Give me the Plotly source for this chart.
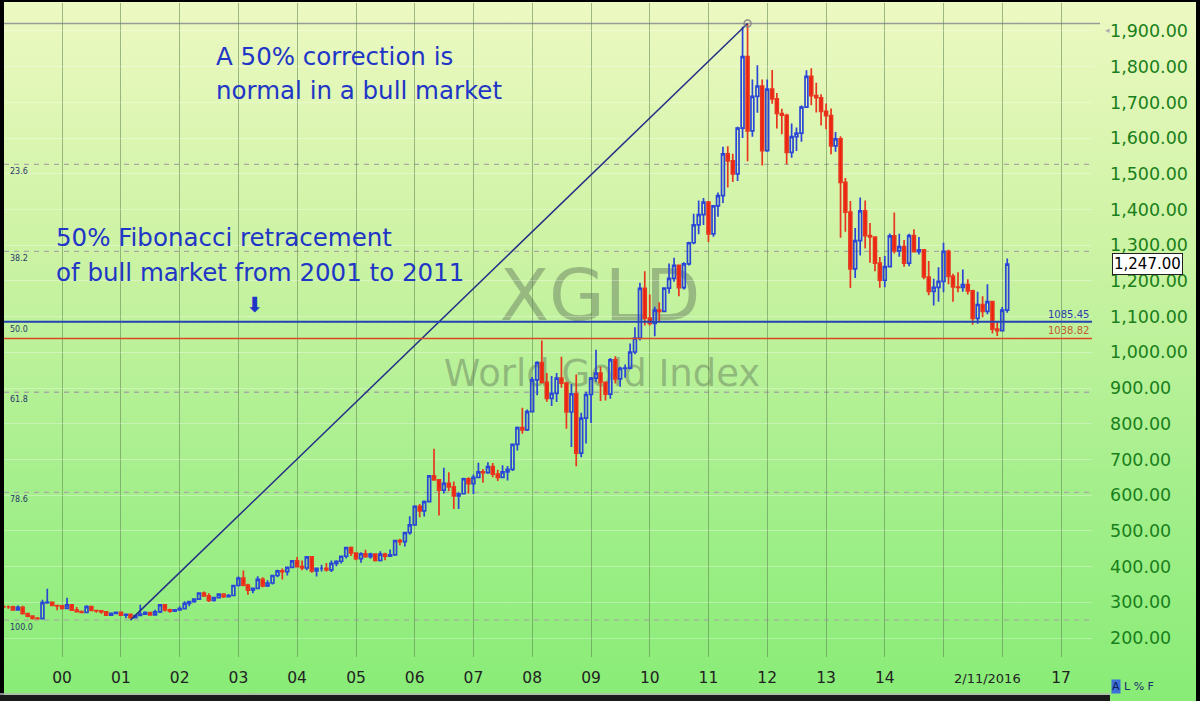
import base64
import pandas as pd
import plotly.graph_objects as go

# ---------------- data: monthly OHLC of the World Gold Index (XGLD) ----------------
months = pd.date_range("1999-01-01", "2016-02-01", freq="MS")

open_ = [
    288, 287, 287, 279, 286, 268, 261, 255, 254, 299, 300, 291,          # 1999
    290, 283, 293, 278, 274, 272, 288, 277, 276, 273, 264, 269,          # 2000
    272, 264, 266, 257, 263, 267, 271, 265, 273, 293, 279, 275,          # 2001
    279, 282, 297, 302, 309, 326, 318, 305, 313, 323, 316, 319,          # 2002
    347, 368, 348, 334, 339, 364, 346, 354, 375, 388, 386, 398,          # 2003
    416, 400, 396, 427, 388, 395, 395, 391, 409, 415, 429, 453,          # 2004
    438, 422, 436, 428, 435, 417, 435, 429, 433, 473, 470, 495,          # 2005
    517, 569, 556, 582, 654, 643, 614, 633, 623, 598, 604, 646,          # 2006
    632, 650, 665, 663, 680, 659, 650, 665, 672, 742, 789, 783,          # 2007
    834, 923, 971, 916, 871, 885, 928, 914, 833, 884, 718, 816,          # 2008
    882, 928, 942, 916, 883, 979, 926, 955, 956, 1001, 1040, 1179,       # 2009
    1096, 1081, 1118, 1115, 1180, 1207, 1244, 1181, 1248, 1307, 1357, 1386,  # 2010
    1421, 1332, 1410, 1439, 1556, 1536, 1500, 1628, 1828, 1620, 1717, 1746,  # 2011
    1565, 1737, 1710, 1669, 1664, 1560, 1604, 1614, 1687, 1773, 1719, 1713,  # 2012
    1675, 1663, 1578, 1598, 1476, 1393, 1234, 1313, 1396, 1327, 1323, 1250,  # 2013
    1202, 1240, 1326, 1284, 1296, 1250, 1327, 1282, 1287, 1211, 1171, 1182,  # 2014
    1199, 1283, 1213, 1183, 1182, 1190, 1172, 1095, 1134, 1115, 1142, 1065,  # 2015
    1061, 1118,                                                          # 2016
]
high = [
    293, 291, 290, 291, 290, 269, 264, 259, 307, 338, 302, 293,
    292, 313, 294, 287, 277, 292, 290, 279, 277, 274, 270, 274,
    273, 268, 267, 265, 293, 275, 272, 279, 294, 293, 282, 281,
    289, 303, 304, 310, 327, 330, 325, 315, 325, 325, 323, 349,
    372, 389, 352, 341, 373, 370, 362, 376, 391, 395, 400, 417,
    427, 417, 428, 428, 396, 405, 410, 417, 418, 430, 455, 456,
    440, 440, 447, 439, 437, 443, 439, 448, 475, 478, 497, 541,
    572, 575, 585, 655, 730, 645, 677, 664, 638, 608, 649, 650,
    658, 691, 673, 692, 690, 671, 684, 682, 745, 792, 845, 840,
    931, 975, 1033, 942, 934, 942, 988, 918, 911, 938, 831, 890,
    931, 1007, 960, 918, 984, 989, 960, 966, 1025, 1070, 1195, 1227,
    1162, 1128, 1140, 1181, 1249, 1265, 1245, 1252, 1310, 1388, 1425, 1432,
    1424, 1411, 1448, 1576, 1577, 1556, 1632, 1912, 1920, 1764, 1804, 1764,
    1764, 1791, 1726, 1682, 1668, 1641, 1630, 1691, 1790, 1796, 1755, 1723,
    1697, 1683, 1617, 1605, 1488, 1424, 1348, 1434, 1425, 1362, 1324, 1267,
    1270, 1333, 1392, 1332, 1315, 1332, 1345, 1323, 1289, 1256, 1206, 1238,
    1307, 1287, 1220, 1224, 1232, 1205, 1175, 1170, 1157, 1191, 1142, 1088,
    1127, 1263,
]
low = [
    283, 282, 278, 278, 267, 258, 252, 252, 253, 296, 289, 278,
    280, 282, 277, 273, 270, 271, 276, 271, 268, 263, 263, 267,
    263, 255, 256, 255, 262, 265, 264, 265, 270, 274, 271, 273,
    277, 281, 289, 299, 307, 315, 301, 302, 311, 312, 315, 318,
    344, 345, 321, 325, 337, 342, 343, 350, 370, 364, 375, 397,
    398, 390, 390, 383, 372, 386, 386, 385, 401, 409, 423, 430,
    418, 411, 425, 422, 414, 414, 418, 428, 432, 460, 456, 489,
    515, 538, 540, 580, 641, 543, 605, 612, 561, 561, 603, 605,
    603, 648, 635, 660, 650, 640, 648, 641, 668, 725, 772, 780,
    832, 880, 913, 862, 850, 861, 901, 786, 735, 681, 706, 745,
    802, 918, 864, 865, 870, 913, 904, 929, 953, 995, 1033, 1075,
    1075, 1045, 1088, 1113, 1165, 1198, 1157, 1176, 1243, 1303, 1331, 1357,
    1309, 1324, 1380, 1418, 1462, 1477, 1480, 1600, 1535, 1604, 1671, 1523,
    1562, 1696, 1627, 1611, 1527, 1545, 1564, 1590, 1684, 1692, 1672, 1635,
    1625, 1555, 1562, 1321, 1338, 1180, 1208, 1271, 1291, 1251, 1227, 1181,
    1182, 1238, 1277, 1268, 1240, 1241, 1281, 1274, 1205, 1160, 1131, 1142,
    1168, 1191, 1142, 1168, 1170, 1162, 1077, 1080, 1098, 1107, 1053, 1046,
    1060, 1111,
]
close = [
    287, 287, 279, 286, 268, 261, 255, 254, 299, 300, 291, 290,
    283, 293, 278, 274, 272, 288, 277, 276, 273, 264, 269, 272,
    264, 266, 257, 263, 267, 271, 265, 273, 293, 279, 275, 279,
    282, 297, 302, 309, 326, 318, 305, 313, 323, 316, 319, 347,
    368, 348, 334, 339, 364, 346, 354, 375, 388, 386, 398, 416,
    400, 396, 427, 388, 395, 395, 391, 409, 415, 429, 453, 438,
    422, 436, 428, 435, 417, 435, 429, 433, 473, 470, 495, 517,
    569, 556, 582, 654, 643, 614, 633, 623, 598, 604, 646, 632,
    650, 665, 663, 680, 659, 650, 665, 672, 742, 789, 783, 834,
    923, 971, 916, 871, 885, 928, 914, 833, 884, 718, 816, 882,
    928, 942, 916, 883, 979, 926, 955, 956, 1001, 1040, 1179, 1096,
    1081, 1118, 1115, 1180, 1207, 1244, 1181, 1248, 1307, 1357, 1386, 1421,
    1332, 1410, 1439, 1556, 1536, 1500, 1628, 1828, 1620, 1717, 1746, 1565,
    1737, 1710, 1669, 1664, 1560, 1604, 1614, 1687, 1773, 1719, 1713, 1675,
    1663, 1578, 1598, 1476, 1393, 1234, 1313, 1396, 1327, 1323, 1250, 1202,
    1240, 1326, 1284, 1296, 1250, 1327, 1282, 1287, 1211, 1171, 1182, 1199,
    1283, 1213, 1183, 1182, 1190, 1172, 1095, 1134, 1115, 1142, 1065, 1061,
    1118, 1247,
]

# Fibonacci retracement of the 2001-2011 bull market
fib_low = 250.1
fib_high = 1920.8
fib_dates = ["2001-03-01", "2011-09-01"]
fib_ratios = [23.6, 38.2, 50.0, 61.8, 78.6, 100.0]
level_blue = 1085.45
level_red = 1038.82
last_price = 1247.00

year_ticks = [f"{y}-01-01" for y in range(2000, 2018)]
year_labels = ["00", "01", "02", "03", "04", "05", "06", "07", "08", "09",
               "10", "11", "12", "13", "14", "", "", "17"]
price_ticks = list(range(200, 2000, 100))

# ---------------- figure ----------------
W, H = 1200, 701
FONT = "DejaVu Sans"
PL, PR, PT, PB = 4, 1092, 3, 657   # plot area in page pixels


def px(x):
    return x / W


def py(y):
    return 1 - y / H


def dx(x):
    return (x - PL) / (PR - PL)


def dy(y):
    return (PB - y) / (PB - PT)


svg = (
    '<svg xmlns="http://www.w3.org/2000/svg" width="100" height="100" preserveAspectRatio="none">'
    '<defs><linearGradient id="g" x1="0" y1="0" x2="0" y2="1">'
    '<stop offset="0" stop-color="#edf9c2"/>'
    '<stop offset="0.35" stop-color="#cdf3a4"/>'
    '<stop offset="0.7" stop-color="#a4ef8c"/>'
    '<stop offset="1" stop-color="#88ec76"/>'
    '</linearGradient></defs><rect width="100" height="100" fill="url(#g)"/></svg>'
)
bg_uri = "data:image/svg+xml;base64," + base64.b64encode(svg.encode()).decode()

fig = go.Figure()

fig.add_trace(go.Candlestick(
    x=months, open=open_, high=high, low=low, close=close,
    increasing=dict(line=dict(color="#2a46d6", width=1.7), fillcolor="rgba(255,255,255,0)"),
    decreasing=dict(line=dict(color="#e8361e", width=1.7), fillcolor="#f01c0c"),
    whiskerwidth=0, showlegend=False, hoverinfo="skip",
))

# diagonal line from the 2001 low to the 2011 high
fig.add_trace(go.Scatter(
    x=fib_dates, y=[fib_low, fib_high], mode="lines",
    line=dict(color="#252e86", width=1.5), showlegend=False, hoverinfo="skip",
))
fig.add_trace(go.Scatter(
    x=[fib_dates[1]], y=[fib_high], mode="markers",
    marker=dict(symbol="circle-open", size=7, color="#8a8a8a", line=dict(width=1.5)),
    showlegend=False, hoverinfo="skip",
))

shapes = []
# retracement levels (dashed)
for r in fib_ratios:
    lvl = fib_high - (fib_high - fib_low) * r / 100.0
    shapes.append(dict(type="line", xref="x domain", yref="y", x0=0, x1=1, y0=lvl, y1=lvl,
                       line=dict(color="#a6aaa0", width=1.3, dash="5px,5px"), layer="below"))
# 0% level (top)
shapes.append(dict(type="line", xref="paper", yref="y", x0=px(4), x1=px(1100), y0=fib_high, y1=fib_high,
                   line=dict(color="#9a9a9a", width=1.5), layer="below"))
# support lines
shapes.append(dict(type="line", xref="paper", yref="y", x0=px(3), x1=px(1092), y0=level_blue, y1=level_blue,
                   line=dict(color="#2444b4", width=2)))
shapes.append(dict(type="line", xref="paper", yref="y", x0=px(3), x1=px(1092), y0=level_red, y1=level_red,
                   line=dict(color="#dc4a24", width=1.6)))
# watermark (below traces)
shapes.append(dict(type="rect", xref="x domain", yref="y domain", x0=dx(400), x1=dx(800), y0=dy(330), y1=dy(250),
                   line=dict(width=0), fillcolor="rgba(0,0,0,0)", layer="below",
                   label=dict(text="XGLD", font=dict(family=FONT, size=72, color="rgba(95,115,90,0.45)"),
                              textposition="middle center")))
shapes.append(dict(type="rect", xref="x domain", yref="y domain", x0=dx(400), x1=dx(804), y0=dy(395), y1=dy(345),
                   line=dict(width=0), fillcolor="rgba(0,0,0,0)", layer="below",
                   label=dict(text="World Gold Index", font=dict(family=FONT, size=37, color="rgba(95,115,90,0.45)"),
                              textposition="middle center")))
# frame
shapes += [
    dict(type="rect", xref="paper", yref="paper", x0=0, x1=px(4), y0=0, y1=1, line=dict(width=0), fillcolor="#000"),
    dict(type="rect", xref="paper", yref="paper", x0=0, x1=1, y0=py(2), y1=1, line=dict(width=0), fillcolor="#000"),
    dict(type="rect", xref="paper", yref="paper", x0=px(1196), x1=1, y0=0, y1=1, line=dict(width=0), fillcolor="#000"),
    dict(type="rect", xref="paper", yref="paper", x0=0, x1=px(1110), y0=0, y1=py(695), line=dict(width=0), fillcolor="#1a1a1a"),
    dict(type="line", xref="paper", yref="paper", x0=0, x1=px(1110), y0=py(694), y1=py(694),
         line=dict(color="#b8b8b8", width=1.5)),
]

BLUE_TXT = "#1f36c6"
ann = []
ann += [
    dict(text="A 50% correction is", x=px(214), y=py(57)),
    dict(text="normal in a bull market", x=px(214), y=py(90)),
    dict(text="50% Fibonacci retracement", x=px(54), y=py(238)),
    dict(text="of bull market from 2001 to 2011", x=px(54), y=py(272)),
]
for a in ann:
    a.update(xref="paper", yref="paper", xanchor="left", yanchor="middle", showarrow=False,
             font=dict(family=FONT, size=24.5, color=BLUE_TXT))
# down arrow
ann.append(dict(text="⬇", xref="paper", yref="paper", x=px(255), y=py(305), xanchor="center", yanchor="middle",
                showarrow=False, font=dict(family=FONT, size=21, color=BLUE_TXT)))
# fib ratio labels on the left
for r in fib_ratios:
    lvl = fib_high - (fib_high - fib_low) * r / 100.0
    ann.append(dict(text=f"{r:.1f}", xref="paper", yref="y", x=px(8), y=lvl, xanchor="left", yanchor="top",
                    yshift=-1, showarrow=False, font=dict(family=FONT, size=8, color="#2a3a6a")))
# level labels
ann.append(dict(text=f"{level_blue:.2f}", xref="paper", yref="y", x=px(1091), y=level_blue, xanchor="right",
                yanchor="bottom", yshift=0, showarrow=False, font=dict(family=FONT, size=10, color="#2a40a8")))
ann.append(dict(text=f"{level_red:.2f}", xref="paper", yref="y", x=px(1091), y=level_red, xanchor="right",
                yanchor="bottom", yshift=0, showarrow=False, font=dict(family=FONT, size=10, color="#c05a30")))
# last price box
ann.append(dict(text=f"{last_price:,.2f}", xref="paper", yref="y", x=px(1147), y=last_price, xanchor="center",
                yanchor="middle", showarrow=False, bgcolor="#ffffff", bordercolor="#222", borderwidth=1,
                borderpad=1, font=dict(family=FONT, size=15, color="#000")))
# date label
ann.append(dict(text="2/11/2016", xref="paper", yref="paper", x=px(987), y=py(678), xanchor="center",
                yanchor="middle", showarrow=False, font=dict(family=FONT, size=13, color="#222")))
# small toolbar text
ann.append(dict(text="A", xref="paper", yref="paper", x=px(1116), y=py(686), xanchor="center", yanchor="middle",
                showarrow=False, bgcolor="#3d6fd8", borderpad=0, font=dict(family=FONT, size=11, color="#10205a")))
ann.append(dict(text="L % F", xref="paper", yref="paper", x=px(1122), y=py(686), xanchor="left", yanchor="middle",
                showarrow=False, font=dict(family=FONT, size=11, color="#1a2a6a")))
ann.append(dict(text="◂", xref="paper", yref="paper", x=px(1107), y=py(30), xanchor="center", yanchor="middle",
                showarrow=False, font=dict(family=FONT, size=9, color="#b0b0b0")))

fig.update_layout(
    width=W, height=H,
    margin=dict(l=0, r=0, t=0, b=0),
    paper_bgcolor="#a8ee8c",
    plot_bgcolor="rgba(0,0,0,0)",
    images=[dict(source=bg_uri, xref="paper", yref="paper", x=0, y=1, sizex=1, sizey=1,
                 sizing="stretch", layer="below", xanchor="left", yanchor="top")],
    shapes=shapes,
    annotations=ann,
    font=dict(family=FONT),
    showlegend=False,
    boxgap=0.1,
    xaxis=dict(
        type="date", domain=[px(PL), px(PR)],
        range=["1999-01-05", "2017-07-12"],
        tickmode="array", tickvals=year_ticks, ticktext=year_labels,
        tickfont=dict(family=FONT, size=15.5, color="#222"),
        showgrid=True, gridcolor="rgba(95,130,80,0.55)", gridwidth=1,
        zeroline=False, showline=False, ticks="", ticklabelstandoff=9,
        rangeslider=dict(visible=False), fixedrange=True,
    ),
    yaxis=dict(
        domain=[1 - PB / H, 1 - PT / H],
        side="right", range=[146.8, 1978.4],
        tickmode="array", tickvals=price_ticks, tickformat=",.2f",
        tickfont=dict(family=FONT, size=17.5, color="#1a7f1a"),
        showgrid=True, gridcolor="rgba(255,255,255,0.3)", gridwidth=1,
        zeroline=False, showline=False, ticks="", ticklabelstandoff=17, fixedrange=True,
    ),
)

fig.write_html("out.html")
